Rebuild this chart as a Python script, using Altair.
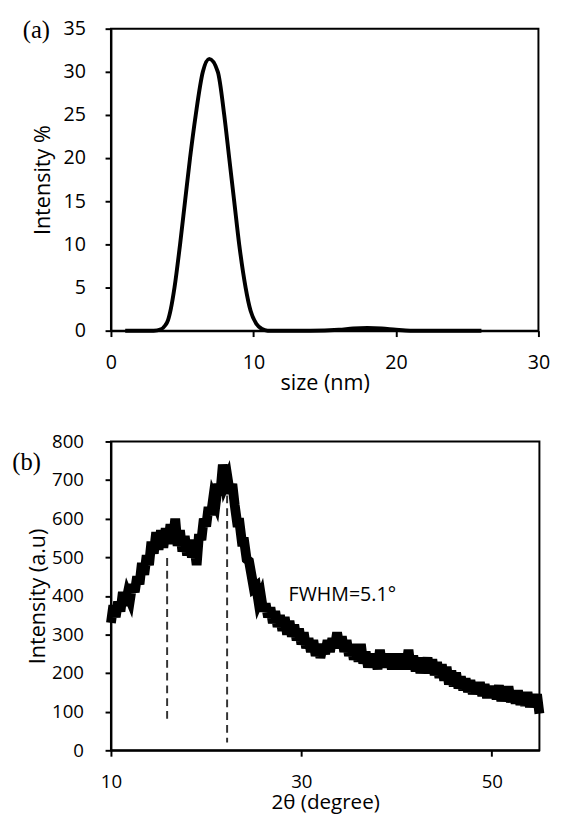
import altair as alt
import pandas as pd

# ---------- (a) DLS size distribution ----------
size_nm = [1.0, 2.0, 3.0, 3.5, 3.8, 4.0, 4.2, 4.46, 4.85, 5.2, 5.55, 5.95, 6.45, 6.9,
           7.5, 7.95, 8.3, 8.65, 9.0, 9.45, 9.8, 10.2, 10.6, 11.0, 14.0, 16.0, 17.0, 18.0,
           19.0, 20.0, 21.0, 26.0]
intensity_pct = [0, 0, 0, 0.15, 0.6, 1.2, 2.5, 5, 10, 15, 20, 25, 30, 31.5,
                 30, 25, 20, 15, 10, 5, 2.3, 0.8, 0.2, 0, 0, 0.1, 0.25, 0.3,
                 0.25, 0.1, 0, 0]

# ---------- (b) XRD pattern, 2theta from 10 to 55 in 0.25 deg steps ----------
theta_start = 10.0
theta_step = 0.25
xrd_intensity = [
    330, 375, 345, 385, 360, 410, 375, 405, 390, 430, 410, 450, 430, 485, 455, 505, 480, 540, 510, 565,
    520, 570, 525, 575, 535, 585, 540, 600, 530, 570, 515, 555, 505, 545, 500, 530, 480, 560, 545, 600,
    580, 630, 610, 655, 640, 690, 670, 740, 690, 705, 665, 690, 635, 590, 590, 540, 540, 495, 490, 455,
    420, 425, 385, 400, 360, 380, 345, 370, 330, 360, 320, 350, 310, 345, 300, 335, 295, 325, 285, 315,
    275, 305, 265, 290, 255, 285, 245, 275, 240, 270, 250, 285, 255, 290, 265, 305, 270, 295, 255, 285,
    245, 275, 235, 265, 230, 275, 225, 255, 215, 250, 220, 250, 210, 260, 215, 245, 215, 250, 210, 245,
    215, 250, 210, 250, 215, 260, 210, 245, 205, 240, 200, 235, 205, 240, 200, 235, 195, 228, 188, 222,
    181, 216, 171, 206, 166, 201, 161, 191, 156, 186, 151, 181, 146, 176, 146, 176, 141, 171, 136, 166,
    138, 163, 133, 168, 128, 158, 128, 165, 125, 152, 122, 155, 118, 148, 116, 150, 112, 142, 115, 145,
    95,
]
peak_pos = [15.9, 22.2]
peak_top = [498, 660]
peak_bottom = [72, 20]

fwhm_text = ["FWHM=5.1\u00b0"]
fwhm_x = [34.3]
fwhm_y = [402]

FONT = "Open Sans"
FRAME = alt.ViewBackground(stroke="black", strokeWidth=2, strokeOpacity=1)

df_a = pd.DataFrame({"size": size_nm, "intensity": intensity_pct})
df_b = pd.DataFrame({
    "theta": [theta_start + theta_step * i for i in range(len(xrd_intensity))],
    "I": xrd_intensity,
})
df_peaks = pd.DataFrame({"pos": peak_pos, "top": peak_top, "bottom": peak_bottom})
df_fwhm = pd.DataFrame({"x": fwhm_x, "y": fwhm_y, "t": fwhm_text})


def axis(values, title, lsize, tsize, lpad, tpad):
    return alt.Axis(values=values, title=title, grid=False, labelOverlap=False,
                    labelFlush=False,
                    labelFont=FONT, labelFontSize=lsize, labelColor="black",
                    titleFont=FONT, titleFontSize=tsize, titleFontWeight="normal",
                    titleColor="black", labelPadding=lpad, titlePadding=tpad,
                    domainColor="black", domainWidth=2, tickColor="black",
                    tickWidth=2, tickSize=6)


# ----- panel (a) -----
xa_scale = alt.Scale(domain=[0, 30], nice=False, zero=False)
ya_scale = alt.Scale(domain=[0, 35], nice=False)
xa_axis = axis([0, 10, 20, 30], "size (nm)", 20, 22, 17, 0)
ya_axis = axis(list(range(0, 36, 5)), "Intensity %", 20, 22, 20, 9)

a_line = alt.Chart(df_a).mark_line(color="black", strokeWidth=4, interpolate="monotone").encode(
    x=alt.X("size:Q", scale=xa_scale, axis=xa_axis),
    y=alt.Y("intensity:Q", scale=ya_scale, axis=ya_axis),
)
lab_a = pd.DataFrame({"t": ["(a)"]})
a_label = alt.Chart(lab_a).mark_text(font="Liberation Serif", fontSize=25, color="black").encode(
    x=alt.value(-76), y=alt.value(2), text="t:N")
top = alt.layer(a_line, a_label).properties(width=436, height=308, view=FRAME)

# ----- panel (b) -----
xb_scale = alt.Scale(domain=[10, 55], nice=False, zero=False)
yb_scale = alt.Scale(domain=[0, 800], nice=False)
xb_axis = axis([10, 30, 50], "2\u03b8 (degree)", 19, 21, 17, 0)
yb_axis = axis(list(range(0, 801, 100)), "Intensity (a.u)", 19, 22, 22, 2)

b_line = alt.Chart(df_b).mark_line(color="black", strokeWidth=10).encode(
    x=alt.X("theta:Q", scale=xb_scale, axis=xb_axis),
    y=alt.Y("I:Q", scale=yb_scale, axis=yb_axis),
)
b_rules = alt.Chart(df_peaks).mark_rule(strokeDash=[8, 5], strokeWidth=2, color="#333333").encode(
    x=alt.X("pos:Q", scale=xb_scale, axis=xb_axis),
    y=alt.Y("top:Q", scale=yb_scale, axis=yb_axis),
    y2="bottom:Q",
)
b_text = alt.Chart(df_fwhm).mark_text(font=FONT, fontSize=20, color="black").encode(
    x=alt.X("x:Q", scale=xb_scale, axis=xb_axis),
    y=alt.Y("y:Q", scale=yb_scale, axis=yb_axis),
    text="t:N",
)
lab_b = pd.DataFrame({"t": ["(b)"]})
b_label = alt.Chart(lab_b).mark_text(font="Liberation Serif", fontSize=25, color="black").encode(
    x=alt.value(-86), y=alt.value(21), text="t:N")
bottom = alt.layer(b_line, b_rules, b_text, b_label).properties(width=437, height=315, view=FRAME)

chart = alt.vconcat(top, bottom, spacing=38).properties(
    padding={"left": 3, "top": 2, "right": 0, "bottom": 0},
    background="white",
).configure_view(stroke="black", strokeWidth=2)

chart.save("out.html", embed_options={"renderer": "svg", "actions": False})
